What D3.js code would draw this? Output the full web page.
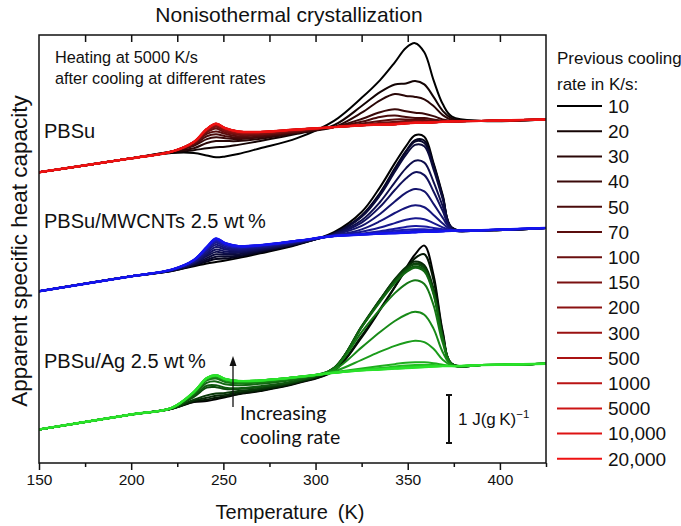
<!DOCTYPE html>
<html>
<head>
<meta charset="utf-8">
<script src="https://cdn.jsdelivr.net/npm/d3@7"></script>
<style>
  body { margin: 0; background: #fff; }
  svg { display: block; }
  text { font-family: "Liberation Sans", Arial, sans-serif; fill: #111; }
</style>
</head>
<body>
<svg id="chart" width="681" height="526"></svg>
<script>
// Temperature grid (K) shared by every trace
const temperatures = [150, 200, 222, 234, 241, 246, 251, 258, 270, 290, 310, 325, 335, 343, 349, 354, 359, 364, 369, 374, 390, 425];

// Previous cooling rates (K/s)
const coolingRates = [10, 20, 30, 40, 50, 70, 100, 150, 200, 300, 500, 1000, 5000, 10000, 20000];
const rateLabels = ["10", "20", "30", "40", "50", "70", "100", "150", "200", "300", "500", "1000", "5000", "10,000", "20,000"];

// x-axis ticks
const majorTicks = [150, 200, 250, 300, 350, 400];
const minorTicks = [175, 225, 275, 325, 375, 425];
const topTicks = [175, 200, 225, 250, 275, 300, 325, 350, 375, 400];

// Apparent specific heat capacity, J/(g K), vertically shifted per sample.
// Base trace = 20,000 K/s; excess rows are the difference of each cooling rate from it.
const pbsuBase = [6.06, 6.35, 6.49, 6.69, 6.96, 7.07, 6.98, 6.91, 6.90, 6.95, 7.00, 7.04, 7.05, 7.06, 7.08, 7.09, 7.09, 7.10, 7.11, 7.12, 7.13, 7.16];
const pbsuExcess = [
  [0, 0, -0.03, -0.23, -0.55, -0.70, -0.59, -0.47, -0.34, -0.18, 0.13, 0.57, 0.93, 1.29, 1.57, 1.66, 1.47, 0.88, 0.37, 0.10, 0, 0],
  [0, 0, -0.02, -0.17, -0.40, -0.49, -0.39, -0.28, -0.19, -0.09, 0.04, 0.40, 0.68, 0.83, 0.83, 0.87, 0.80, 0.53, 0.23, 0.06, 0, 0],
  [0, 0, 0, -0.13, -0.29, -0.36, -0.27, -0.20, -0.14, -0.07, 0, 0.26, 0.51, 0.63, 0.57, 0.54, 0.49, 0.34, 0.14, 0.03, 0, 0],
  [0, 0, 0, -0.08, -0.21, -0.28, -0.21, -0.16, -0.11, -0.06, 0, 0.13, 0.26, 0.31, 0.25, 0.21, 0.19, 0.13, 0.05, 0.01, 0, 0],
  [0, 0, 0, -0.06, -0.15, -0.22, -0.17, -0.13, -0.09, -0.05, 0, 0.07, 0.16, 0.18, 0.13, 0.10, 0.10, 0.06, 0.02, 0, 0, 0],
  [0, 0, 0, -0.04, -0.10, -0.16, -0.12, -0.10, -0.07, -0.04, 0, 0.03, 0.08, 0.10, 0.08, 0.06, 0.06, 0.04, 0.01, 0, 0, 0],
  [0, 0, 0, -0.03, -0.07, -0.10, -0.09, -0.07, -0.05, -0.03, 0, 0, 0.04, 0.05, 0.05, 0.04, 0.03, 0.02, 0, 0, 0, 0],
  [0, 0, 0, 0, -0.05, -0.06, -0.06, -0.05, -0.04, -0.02, 0, 0, 0.02, 0.03, 0.03, 0.02, 0.02, 0, 0, 0, 0, 0],
  [0, 0, 0, 0, -0.03, -0.04, -0.04, -0.03, -0.02, 0, 0, 0, 0, 0.02, 0.01, 0, 0, 0, 0, 0, 0, 0],
  [0, 0, 0, 0, -0.02, -0.02, -0.02, -0.02, -0.01, 0, 0, 0, 0, 0, 0, 0, 0, 0, 0, 0, 0, 0],
  [0, 0, 0, 0, 0, -0.01, -0.01, 0, 0, 0, 0, 0, 0, 0, 0, 0, 0, 0, 0, 0, 0, 0],
  [0, 0, 0, 0, 0, 0, 0, 0, 0, 0, 0, 0, 0, 0, 0, 0, 0, 0, 0, 0, 0, 0],
  [0, 0, 0, 0, 0, 0, 0, 0, 0, 0, 0, 0, 0, 0, 0, 0, 0, 0, 0, 0, 0, 0],
  [0, 0, 0, 0, 0, 0, 0, 0, 0, 0, 0, 0, 0, 0, 0, 0, 0, 0, 0, 0, 0, 0],
  [0, 0, 0, 0, 0, 0, 0, 0, 0, 0, 0, 0, 0, 0, 0, 0, 0, 0, 0, 0, 0, 0]
];

const mwcntBase = [3.58, 3.89, 4.03, 4.23, 4.50, 4.68, 4.58, 4.52, 4.54, 4.63, 4.73, 4.76, 4.78, 4.79, 4.80, 4.81, 4.82, 4.82, 4.83, 4.84, 4.85, 4.90];
const mwcntExcess = [
  [0, 0, -0.03, -0.13, -0.34, -0.49, -0.36, -0.25, -0.17, -0.08, 0.08, 0.47, 0.97, 1.46, 1.80, 2.02, 1.98, 1.43, 0.75, 0.06, 0, 0],
  [0, 0, -0.03, -0.11, -0.30, -0.43, -0.32, -0.22, -0.15, -0.07, 0.06, 0.40, 0.85, 1.35, 1.70, 1.92, 1.90, 1.40, 0.72, 0.06, 0, 0],
  [0, 0, -0.02, -0.10, -0.27, -0.38, -0.28, -0.20, -0.13, -0.06, 0.05, 0.38, 0.82, 1.32, 1.68, 1.89, 1.85, 1.36, 0.70, 0.06, 0, 0],
  [0, 0, -0.02, -0.09, -0.23, -0.33, -0.24, -0.17, -0.11, -0.05, 0.05, 0.37, 0.80, 1.28, 1.62, 1.82, 1.78, 1.30, 0.67, 0.05, 0, 0],
  [0, 0, -0.02, -0.07, -0.19, -0.28, -0.21, -0.14, -0.10, -0.05, 0.04, 0.30, 0.66, 1.06, 1.34, 1.49, 1.44, 1.04, 0.52, 0.04, 0, 0],
  [0, 0, -0.01, -0.06, -0.16, -0.23, -0.17, -0.12, -0.08, -0.04, 0.03, 0.25, 0.56, 0.90, 1.13, 1.25, 1.18, 0.84, 0.42, 0.03, 0, 0],
  [0, 0, -0.01, -0.05, -0.13, -0.18, -0.13, -0.09, -0.06, -0.03, 0.02, 0.18, 0.41, 0.66, 0.83, 0.90, 0.84, 0.58, 0.28, 0.02, 0, 0],
  [0, 0, -0.01, -0.04, -0.09, -0.13, -0.10, -0.07, -0.05, -0.02, 0.01, 0.11, 0.26, 0.42, 0.52, 0.56, 0.51, 0.35, 0.16, 0.01, 0, 0],
  [0, 0, 0, -0.02, -0.06, -0.09, -0.07, -0.05, -0.03, -0.02, 0.01, 0.06, 0.13, 0.21, 0.27, 0.29, 0.26, 0.18, 0.08, 0.01, 0, 0],
  [0, 0, 0, -0.01, -0.04, -0.06, -0.04, -0.03, -0.02, -0.01, 0, 0.02, 0.05, 0.09, 0.12, 0.13, 0.11, 0.08, 0.04, 0, 0, 0],
  [0, 0, 0, -0.01, -0.03, -0.04, -0.03, -0.02, -0.01, 0, 0, 0.01, 0.03, 0.05, 0.06, 0.06, 0.05, 0.04, 0.02, 0, 0, 0],
  [0, 0, 0, 0, -0.01, -0.02, -0.01, -0.01, 0, 0, 0, 0, 0.01, 0.02, 0.03, 0.03, 0.03, 0.02, 0.01, 0, 0, 0],
  [0, 0, 0, 0, 0, -0.01, 0, 0, 0, 0, 0, 0, 0, 0, 0, 0, 0, 0, 0, 0, 0, 0],
  [0, 0, 0, 0, 0, 0, 0, 0, 0, 0, 0, 0, 0, 0, 0, 0, 0, 0, 0, 0, 0, 0],
  [0, 0, 0, 0, 0, 0, 0, 0, 0, 0, 0, 0, 0, 0, 0, 0, 0, 0, 0, 0, 0, 0]
];

const agBase = [0.70, 1.01, 1.15, 1.48, 1.77, 1.83, 1.75, 1.71, 1.72, 1.79, 1.88, 1.93, 1.95, 1.97, 1.98, 1.99, 2.00, 2.01, 2.02, 2.02, 2.04, 2.07];
const agExcess = [
  [0, 0, -0.02, -0.21, -0.48, -0.50, -0.38, -0.28, -0.22, -0.13, 0.04, 0.69, 1.24, 1.70, 2.08, 2.36, 2.53, 1.91, 0.72, 0.04, 0, 0],
  [0, 0, -0.02, -0.20, -0.45, -0.47, -0.36, -0.27, -0.21, -0.12, 0.05, 0.72, 1.26, 1.70, 2.04, 2.28, 2.35, 1.80, 0.68, 0.04, 0, 0],
  [0, 0, -0.02, -0.18, -0.41, -0.43, -0.33, -0.24, -0.19, -0.11, 0.10, 0.90, 1.45, 1.86, 2.10, 2.21, 2.12, 1.62, 0.62, 0.04, 0, 0],
  [0, 0, -0.02, -0.16, -0.36, -0.38, -0.29, -0.21, -0.17, -0.10, 0.10, 0.92, 1.46, 1.85, 2.07, 2.17, 2.08, 1.58, 0.60, 0.04, 0, 0],
  [0, 0, -0.01, -0.10, -0.20, -0.25, -0.21, -0.17, -0.14, -0.08, 0.10, 0.92, 1.45, 1.83, 2.05, 2.15, 2.06, 1.56, 0.59, 0.04, 0, 0],
  [0, 0, -0.01, -0.08, -0.16, -0.21, -0.18, -0.15, -0.12, -0.07, 0.10, 0.91, 1.43, 1.80, 2.02, 2.11, 2.02, 1.53, 0.58, 0.04, 0, 0],
  [0, 0, 0, -0.05, -0.10, -0.13, -0.11, -0.09, -0.07, -0.04, 0.10, 0.90, 1.41, 1.78, 1.99, 2.08, 1.99, 1.50, 0.57, 0.04, 0, 0],
  [0, 0, 0, -0.03, -0.05, -0.07, -0.06, -0.05, -0.04, -0.02, 0.09, 0.80, 1.25, 1.57, 1.75, 1.82, 1.73, 1.28, 0.48, 0.03, 0, 0],
  [0, 0, 0, -0.02, -0.03, -0.04, -0.03, -0.03, -0.02, -0.01, 0.06, 0.48, 0.78, 0.99, 1.11, 1.16, 1.09, 0.79, 0.29, 0.02, 0, 0],
  [0, 0, 0, -0.01, -0.02, -0.02, -0.02, -0.01, -0.01, 0, 0.03, 0.22, 0.37, 0.47, 0.53, 0.56, 0.52, 0.37, 0.13, 0.01, 0, 0],
  [0, 0, 0, 0, -0.01, -0.01, -0.01, 0, 0, 0, 0.01, 0.04, 0.07, 0.09, 0.11, 0.11, 0.10, 0.07, 0.03, 0, 0, 0],
  [0, 0, 0, 0, 0, 0, 0, 0, 0, 0, 0, 0.02, 0.03, 0.04, 0.05, 0.05, 0.04, 0.03, 0.01, 0, 0, 0],
  [0, 0, 0, 0, 0, 0, 0, 0, 0, 0, 0, 0.01, 0.01, 0.02, 0.02, 0.02, 0.02, 0.01, 0, 0, 0, 0],
  [0, 0, 0, 0, 0, 0, 0, 0, 0, 0, 0, 0, 0, 0, 0, 0, 0, 0, 0, 0, 0, 0],
  [0, 0, 0, 0, 0, 0, 0, 0, 0, 0, 0, 0, 0, 0, 0, 0, 0, 0, 0, 0, 0, 0]
];

// Colour ramps: slowest cooling (black) to fastest cooling (full hue)
const pbsuColors = ["#000000", "#140404", "#2a0707", "#3a0909", "#4a0b0b", "#5a0d0d", "#6a0f0f", "#7a1010", "#8a1111", "#9a1212", "#aa1313", "#ba1414", "#cc1414", "#dd1313", "#ee1212"];
const mwcntColors = ["#000000", "#04041a", "#08082c", "#0b0b3c", "#0e0e4c", "#11115c", "#14146c", "#16167c", "#18188e", "#1a1aa0", "#1a1ab2", "#1a1ac4", "#1818d4", "#1616e2", "#1414ee"];
const agColors = ["#000000", "#031603", "#062806", "#093809", "#0c480c", "#0f580f", "#126812", "#157815", "#188a18", "#1b9c1b", "#1eae1e", "#21c021", "#24cc24", "#27d827", "#2ae22a"];

const samples = [
  { name: "PBSu", base: pbsuBase, excess: pbsuExcess, colors: pbsuColors },
  { name: "PBSu/MWCNTs 2.5 wt\u2009%", base: mwcntBase, excess: mwcntExcess, colors: mwcntColors },
  { name: "PBSu/Ag 2.5 wt\u2009%", base: agBase, excess: agExcess, colors: agColors }
];

const plot = { left: 39, right: 546, top: 35, bottom: 463 };

const svg = d3.select("#chart");

const x = d3.scaleLinear().domain([150, 425]).range([plot.left, plot.right]);
const y = d3.scaleLinear().domain([0, 8.92]).range([plot.bottom, plot.top]);

svg.append("defs").append("clipPath").attr("id", "plot-clip")
  .append("rect")
  .attr("x", plot.left).attr("y", plot.top)
  .attr("width", plot.right - plot.left).attr("height", plot.bottom - plot.top);

// Traces
const line = d3.line()
  .x((d, i) => x(temperatures[i]))
  .y(d => y(d))
  .curve(d3.curveCatmullRom.alpha(0.5));

const traces = svg.append("g").attr("clip-path", "url(#plot-clip)");
samples.forEach(s => {
  const g = traces.append("g");
  coolingRates.forEach((rate, r) => {
    const values = s.base.map((b, i) => b + s.excess[r][i]);
    g.append("path")
      .datum(values)
      .attr("d", line)
      .attr("fill", "none")
      .attr("stroke", s.colors[r])
      .attr("stroke-width", r === coolingRates.length - 1 ? 2.4 : 2)
      .attr("stroke-linejoin", "round");
  });
});

// Frame
svg.append("rect")
  .attr("x", plot.left).attr("y", plot.top)
  .attr("width", plot.right - plot.left).attr("height", plot.bottom - plot.top)
  .attr("fill", "none").attr("stroke", "#111").attr("stroke-width", 1.5);

// Bottom axis
const xAxis = svg.append("g").attr("transform", `translate(0,${plot.bottom})`)
  .call(d3.axisBottom(x).tickValues(majorTicks).tickSize(7).tickPadding(4).tickFormat(d3.format("d")));
xAxis.select(".domain").remove();
xAxis.selectAll("line").attr("stroke", "#111").attr("stroke-width", 1.5);
xAxis.selectAll("text").style("font-size", "15.5px").attr("fill", "#111");

const xMinor = svg.append("g").attr("transform", `translate(0,${plot.bottom})`)
  .call(d3.axisBottom(x).tickValues(minorTicks).tickSize(4).tickFormat(""));
xMinor.select(".domain").remove();
xMinor.selectAll("line").attr("stroke", "#111").attr("stroke-width", 1.5);

// Top axis, ticks pointing inward
const xTop = svg.append("g").attr("transform", `translate(0,${plot.top})`)
  .call(d3.axisTop(x).tickValues(topTicks).tickSize(-7).tickFormat(""));
xTop.select(".domain").remove();
xTop.selectAll("line").attr("stroke", "#111").attr("stroke-width", 1.5);

// Titles
svg.append("text")
  .attr("x", 289).attr("y", 22)
  .attr("text-anchor", "middle").style("font-size", "21px")
  .text("Nonisothermal crystallization");

svg.append("text")
  .attr("x", 290).attr("y", 519)
  .attr("text-anchor", "middle").style("font-size", "20px")
  .text("Temperature\u2002(K)");

svg.append("text")
  .attr("transform", "translate(27,251) rotate(-90)")
  .attr("text-anchor", "middle").style("font-size", "22.5px")
  .text("Apparent specific heat capacity");

// Annotations inside the plot
svg.append("text").attr("x", 55).attr("y", 63).style("font-size", "16.3px")
  .text("Heating at 5000 K/s");
svg.append("text").attr("x", 55).attr("y", 84).style("font-size", "16.3px")
  .text("after cooling at different rates");

const labelY = [138, 228, 368];
samples.forEach((s, i) => {
  svg.append("text").attr("x", 44).attr("y", labelY[i]).style("font-size", "20px").text(s.name);
});

// Arrow: increasing cooling rate
const arrowX = 233;
svg.append("line")
  .attr("x1", arrowX).attr("x2", arrowX).attr("y1", 407).attr("y2", 364)
  .attr("stroke", "#111").attr("stroke-width", 1.3);
svg.append("path")
  .attr("d", `M${arrowX - 3.5},366 L${arrowX},356 L${arrowX + 3.5},366 Z`)
  .attr("fill", "#111");
svg.append("text").attr("x", 240).attr("y", 420)
  .style("font-family", "Lato, 'Open Sans', sans-serif").style("font-size", "19.5px")
  .text("Increasing");
svg.append("text").attr("x", 240).attr("y", 444)
  .style("font-family", "Lato, 'Open Sans', sans-serif").style("font-size", "19.5px")
  .text("cooling rate");

// Scale bar: 1 J/(g K)
const barX = 449, barBottom = 443;
const barLen = y(0) - y(1);
const bar = svg.append("g").attr("stroke", "#111").attr("stroke-width", 2);
bar.append("line").attr("x1", barX).attr("x2", barX).attr("y1", barBottom).attr("y2", barBottom - barLen);
bar.append("line").attr("x1", barX - 3).attr("x2", barX + 3).attr("y1", barBottom).attr("y2", barBottom);
bar.append("line").attr("x1", barX - 3).attr("x2", barX + 3).attr("y1", barBottom - barLen).attr("y2", barBottom - barLen);
const barLabel = svg.append("text").attr("x", 458).attr("y", barBottom - barLen / 2 + 6).style("font-size", "17px");
barLabel.append("tspan").text("1 J(g\u2009K)");
barLabel.append("tspan").attr("dy", -7).style("font-size", "11.5px").text("\u22121");

// Legend
const legend = svg.append("g");
legend.append("text").attr("x", 557).attr("y", 64).style("font-size", "17px").text("Previous cooling");
legend.append("text").attr("x", 557).attr("y", 90).style("font-size", "17px").text("rate in K/s:");
rateLabels.forEach((lab, i) => {
  const ly = 106 + i * 25.2;
  legend.append("line")
    .attr("x1", 557).attr("x2", 602).attr("y1", ly).attr("y2", ly)
    .attr("stroke", pbsuColors[i]).attr("stroke-width", 2);
  legend.append("text")
    .attr("x", 608).attr("y", ly).attr("dy", "0.36em")
    .style("font-size", "19px")
    .text(lab);
});
</script>
</body>
</html>
